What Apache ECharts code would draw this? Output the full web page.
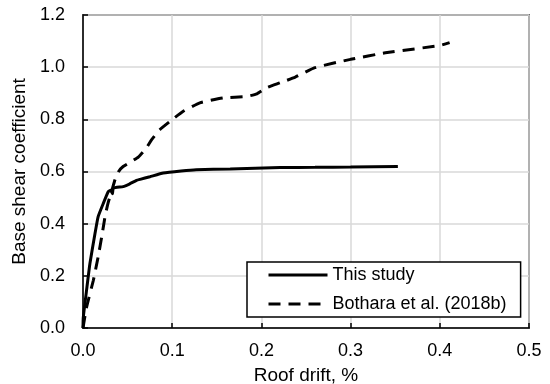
<!DOCTYPE html>
<html>
<head>
<meta charset="utf-8">
<script src="https://cdn.jsdelivr.net/npm/echarts@6/dist/echarts.min.js"></script>
<style>html,body{margin:0;padding:0;background:#fff;}#c{width:550px;height:384px;}</style>
</head>
<body>
<div id="c"></div>
<script>
var xTicks = [0, 0.1, 0.2, 0.3, 0.4, 0.5];
var yTicks = [0, 0.2, 0.4, 0.6, 0.8, 1.0, 1.2];
var thisStudyX = [0, 0.0003, 0.004, 0.0078, 0.0135, 0.017, 0.0228, 0.0284, 0.031, 0.033, 0.034, 0.045, 0.052, 0.06, 0.064, 0.075, 0.09, 0.11, 0.127, 0.165, 0.221, 0.26, 0.3, 0.353];
var thisStudyY = [0, 0.04, 0.145, 0.248, 0.363, 0.427, 0.478, 0.523, 0.528, 0.515, 0.536, 0.542, 0.552, 0.566, 0.57, 0.58, 0.594, 0.602, 0.607, 0.61, 0.615, 0.616, 0.617, 0.619];
var botharaX = [0, 0.004, 0.0116, 0.017, 0.021, 0.0247, 0.028, 0.032, 0.036, 0.04, 0.045, 0.055, 0.062, 0.071, 0.077, 0.086, 0.0975, 0.112, 0.131, 0.157, 0.1835, 0.195, 0.206, 0.221, 0.238, 0.26, 0.3, 0.339, 0.4, 0.411];
var botharaY = [0, 0.08, 0.183, 0.273, 0.35, 0.427, 0.478, 0.523, 0.57, 0.6, 0.619, 0.64, 0.655, 0.69, 0.722, 0.76, 0.792, 0.83, 0.863, 0.882, 0.888, 0.898, 0.921, 0.94, 0.962, 0.998, 1.03, 1.055, 1.083, 1.094];
var seriesNames = ['This study', 'Bothara et al. (2018b)'];

function pairs(xs, ys) { return xs.map(function (x, i) { return [x, ys[i]]; }); }

var chart = echarts.init(document.getElementById('c'), null, {renderer: 'canvas'});
var font = 'Liberation Sans, Arial, sans-serif';
chart.setOption({
  animation: false,
  backgroundColor: '#fff',
  grid: {left: 83, right: 21, top: 15, bottom: 56, containLabel: false, outerBoundsMode: 'none',
         show: true, borderColor: '#000', borderWidth: 1.5, backgroundColor: 'transparent'},
  xAxis: {
    type: 'value', min: xTicks[0], max: xTicks[xTicks.length - 1], interval: 0.1,
    name: 'Roof drift, %', nameLocation: 'middle', nameGap: 38,
    nameTextStyle: {fontFamily: font, fontSize: 19, color: '#000'},
    axisLine: {lineStyle: {color: '#000', width: 1.5}},
    axisTick: {inside: true, length: 5, lineStyle: {color: '#000', width: 1.5}},
    axisLabel: {fontFamily: font, fontSize: 18, color: '#000', margin: 14, formatter: function (v) { return v.toFixed(1); }},
    splitLine: {lineStyle: {color: '#d9d9d9', width: 1.5}}
  },
  yAxis: {
    type: 'value', min: yTicks[0], max: yTicks[yTicks.length - 1], interval: 0.2,
    name: 'Base shear coefficient', nameLocation: 'middle', nameGap: 54,
    nameTextStyle: {fontFamily: font, fontSize: 19, color: '#000'},
    axisLine: {lineStyle: {color: '#000', width: 1.5}},
    axisTick: {inside: true, length: 5, lineStyle: {color: '#000', width: 1.5}},
    axisLabel: {fontFamily: font, fontSize: 18, color: '#000', margin: 18, formatter: function (v) { return v.toFixed(1); }},
    splitLine: {lineStyle: {color: '#d9d9d9', width: 1.5}}
  },
  legend: {
    orient: 'vertical', left: 247, top: 262,
    itemWidth: 59, itemHeight: 18, itemGap: 11,
    padding: [4, 14, 4, 20],
    borderColor: '#000', borderWidth: 1.5, backgroundColor: '#fff', borderRadius: 0,
    itemStyle: {opacity: 0, color: 'transparent', borderWidth: 0},
    lineStyle: {width: 3},
    textStyle: {fontFamily: font, fontSize: 18, color: '#000'},
    data: seriesNames
  },
  series: [
    {name: seriesNames[0], type: 'line', data: pairs(thisStudyX, thisStudyY), showSymbol: false, symbol: 'none', smooth: 0.15,
     lineStyle: {color: '#000', width: 3}, itemStyle: {color: '#000'}},
    {name: seriesNames[1], type: 'line', data: pairs(botharaX, botharaY), showSymbol: false, symbol: 'none', smooth: 0.15,
     lineStyle: {color: '#000', width: 3, type: [12, 8]}, itemStyle: {color: '#000'}}
  ]
});
</script>
</body>
</html>
